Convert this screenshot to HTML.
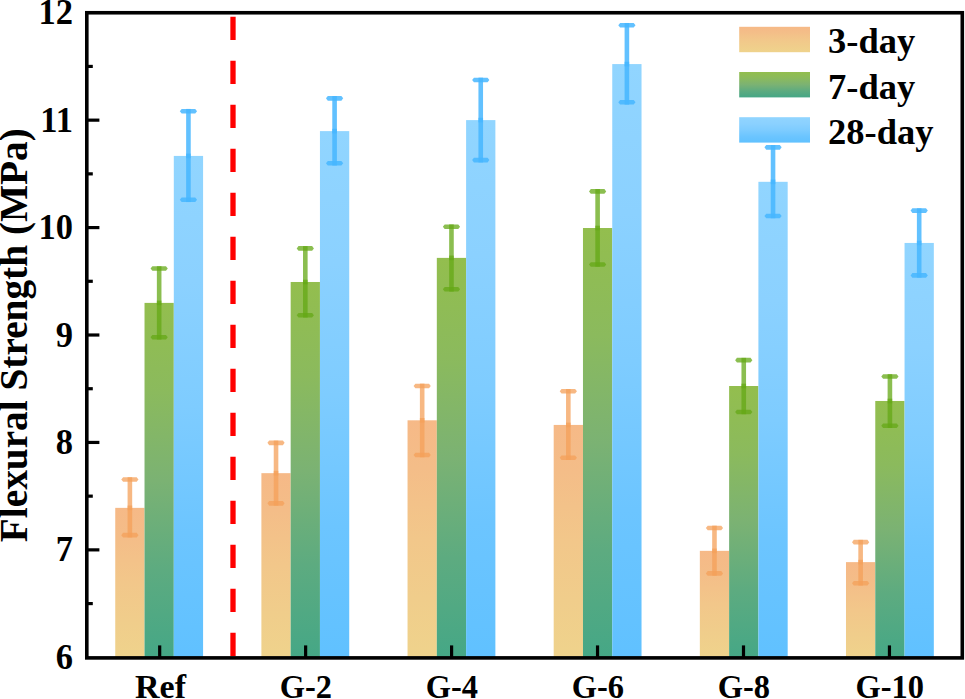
<!DOCTYPE html>
<html><head><meta charset="utf-8"><style>
html,body{margin:0;padding:0;background:#fff;overflow:hidden;}
svg{display:block;}
text{font-family:"Liberation Serif",serif;font-weight:bold;fill:#000;}
</style></head><body>
<svg width="965" height="699" viewBox="0 0 965 699">
<defs>
<linearGradient id="go" x1="0" y1="0" x2="0" y2="1"><stop offset="0.000" stop-color="rgb(246,185,135)"/><stop offset="0.200" stop-color="rgb(244,189,136)"/><stop offset="0.500" stop-color="rgb(242,199,138)"/><stop offset="0.750" stop-color="rgb(240,205,139)"/><stop offset="1.000" stop-color="rgb(239,211,140)"/></linearGradient>
<linearGradient id="gg" x1="0" y1="0" x2="0" y2="1"><stop offset="0.000" stop-color="rgb(147,190,78)"/><stop offset="0.250" stop-color="rgb(139,186,93)"/><stop offset="0.500" stop-color="rgb(123,178,115)"/><stop offset="0.750" stop-color="rgb(93,171,128)"/><stop offset="1.000" stop-color="rgb(69,167,134)"/></linearGradient>
<linearGradient id="gb" x1="0" y1="0" x2="0" y2="1"><stop offset="0.000" stop-color="rgb(145,213,255)"/><stop offset="0.250" stop-color="rgb(139,209,255)"/><stop offset="0.500" stop-color="rgb(126,204,255)"/><stop offset="0.750" stop-color="rgb(108,197,255)"/><stop offset="1.000" stop-color="rgb(96,193,255)"/></linearGradient>
</defs>
<rect x="0" y="0" width="965" height="699" fill="#fff"/>

<rect x="115.24" y="507.86" width="29.28" height="150.44" fill="url(#go)"/>
<rect x="144.52" y="302.89" width="29.28" height="355.41" fill="url(#gg)"/>
<rect x="173.80" y="155.92" width="29.28" height="502.38" fill="url(#gb)"/>
<rect x="261.39" y="473.16" width="29.28" height="185.14" fill="url(#go)"/>
<rect x="290.67" y="281.99" width="29.28" height="376.31" fill="url(#gg)"/>
<rect x="319.95" y="131.11" width="29.28" height="527.19" fill="url(#gb)"/>
<rect x="407.54" y="420.31" width="29.28" height="237.99" fill="url(#go)"/>
<rect x="436.82" y="257.88" width="29.28" height="400.42" fill="url(#gg)"/>
<rect x="466.10" y="120.10" width="29.28" height="538.20" fill="url(#gb)"/>
<rect x="553.69" y="424.93" width="29.28" height="233.37" fill="url(#go)"/>
<rect x="582.97" y="228.01" width="29.28" height="430.29" fill="url(#gg)"/>
<rect x="612.25" y="64.07" width="29.28" height="594.23" fill="url(#gb)"/>
<rect x="699.84" y="550.84" width="29.28" height="107.46" fill="url(#go)"/>
<rect x="729.12" y="386.00" width="29.28" height="272.30" fill="url(#gg)"/>
<rect x="758.40" y="181.81" width="29.28" height="476.49" fill="url(#gb)"/>
<rect x="845.99" y="562.12" width="29.28" height="96.18" fill="url(#go)"/>
<rect x="875.27" y="400.97" width="29.28" height="257.33" fill="url(#gg)"/>
<rect x="904.55" y="242.94" width="29.28" height="415.36" fill="url(#gb)"/>
<g fill="rgba(244,160,90,0.75)"><rect x="127.58" y="477.20" width="4.6" height="32.96"/><rect x="127.58" y="505.56" width="4.6" height="31.89"/><polygon points="121.28,479.50 123.08,477.20 136.68,477.20 138.48,479.50 136.68,481.80 123.08,481.80"/><polygon points="121.28,535.15 123.08,532.85 136.68,532.85 138.48,535.15 136.68,537.45 123.08,537.45"/></g>
<g fill="rgba(100,168,22,0.75)"><rect x="156.86" y="266.21" width="4.6" height="38.98"/><rect x="156.86" y="300.59" width="4.6" height="38.98"/><polygon points="150.56,268.51 152.36,266.21 165.96,266.21 167.76,268.51 165.96,270.81 152.36,270.81"/><polygon points="150.56,337.27 152.36,334.97 165.96,334.97 167.76,337.27 165.96,339.57 152.36,339.57"/></g>
<g fill="rgba(70,182,255,0.85)"><rect x="186.14" y="108.93" width="4.6" height="49.29"/><rect x="186.14" y="153.62" width="4.6" height="48.43"/><polygon points="179.84,111.23 181.64,108.93 195.24,108.93 197.04,111.23 195.24,113.53 181.64,113.53"/><polygon points="179.84,199.76 181.64,197.46 195.24,197.46 197.04,199.76 195.24,202.06 181.64,202.06"/></g>
<g fill="rgba(244,160,90,0.75)"><rect x="273.73" y="440.57" width="4.6" height="34.90"/><rect x="273.73" y="470.86" width="4.6" height="34.79"/><polygon points="267.43,442.87 269.23,440.57 282.83,440.57 284.63,442.87 282.83,445.17 269.23,445.17"/><polygon points="267.43,503.35 269.23,501.05 282.83,501.05 284.63,503.35 282.83,505.65 269.23,505.65"/></g>
<g fill="rgba(100,168,22,0.75)"><rect x="303.01" y="246.12" width="4.6" height="38.17"/><rect x="303.01" y="279.69" width="4.6" height="37.85"/><polygon points="296.71,248.42 298.51,246.12 312.11,246.12 313.91,248.42 312.11,250.72 298.51,250.72"/><polygon points="296.71,315.24 298.51,312.94 312.11,312.94 313.91,315.24 312.11,317.54 298.51,317.54"/></g>
<g fill="rgba(70,182,255,0.85)"><rect x="332.29" y="96.04" width="4.6" height="37.37"/><rect x="332.29" y="128.81" width="4.6" height="36.72"/><polygon points="325.99,98.34 327.79,96.04 341.39,96.04 343.19,98.34 341.39,100.64 327.79,100.64"/><polygon points="325.99,163.23 327.79,160.93 341.39,160.93 343.19,163.23 341.39,165.53 327.79,165.53"/></g>
<g fill="rgba(244,160,90,0.75)"><rect x="419.88" y="383.63" width="4.6" height="38.98"/><rect x="419.88" y="418.01" width="4.6" height="39.30"/><polygon points="413.58,385.93 415.38,383.63 428.98,383.63 430.78,385.93 428.98,388.23 415.38,388.23"/><polygon points="413.58,455.01 415.38,452.71 428.98,452.71 430.78,455.01 428.98,457.31 415.38,457.31"/></g>
<g fill="rgba(100,168,22,0.75)"><rect x="449.16" y="224.42" width="4.6" height="35.75"/><rect x="449.16" y="255.58" width="4.6" height="36.02"/><polygon points="442.86,226.72 444.66,224.42 458.26,224.42 460.06,226.72 458.26,229.02 444.66,229.02"/><polygon points="442.86,289.30 444.66,287.00 458.26,287.00 460.06,289.30 458.26,291.60 444.66,291.60"/></g>
<g fill="rgba(70,182,255,0.85)"><rect x="478.44" y="77.67" width="4.6" height="44.73"/><rect x="478.44" y="117.80" width="4.6" height="44.62"/><polygon points="472.14,79.97 473.94,77.67 487.54,77.67 489.34,79.97 487.54,82.27 473.94,82.27"/><polygon points="472.14,160.11 473.94,157.81 487.54,157.81 489.34,160.11 487.54,162.41 473.94,162.41"/></g>
<g fill="rgba(244,160,90,0.75)"><rect x="566.03" y="389.00" width="4.6" height="38.23"/><rect x="566.03" y="422.63" width="4.6" height="37.37"/><polygon points="559.73,391.30 561.53,389.00 575.13,389.00 576.93,391.30 575.13,393.60 561.53,393.60"/><polygon points="559.73,457.70 561.53,455.40 575.13,455.40 576.93,457.70 575.13,460.00 561.53,460.00"/></g>
<g fill="rgba(100,168,22,0.75)"><rect x="595.31" y="189.08" width="4.6" height="41.23"/><rect x="595.31" y="225.71" width="4.6" height="41.02"/><polygon points="589.01,191.38 590.81,189.08 604.41,189.08 606.21,191.38 604.41,193.68 590.81,193.68"/><polygon points="589.01,264.43 590.81,262.13 604.41,262.13 606.21,264.43 604.41,266.73 590.81,266.73"/></g>
<g fill="rgba(70,182,255,0.85)"><rect x="624.59" y="22.99" width="4.6" height="43.38"/><rect x="624.59" y="61.77" width="4.6" height="42.85"/><polygon points="618.29,25.29 620.09,22.99 633.69,22.99 635.49,25.29 633.69,27.59 620.09,27.59"/><polygon points="618.29,102.32 620.09,100.02 633.69,100.02 635.49,102.32 633.69,104.62 620.09,104.62"/></g>
<g fill="rgba(244,160,90,0.75)"><rect x="712.18" y="525.65" width="4.6" height="27.48"/><rect x="712.18" y="548.54" width="4.6" height="27.16"/><polygon points="705.88,527.95 707.68,525.65 721.28,525.65 723.08,527.95 721.28,530.25 707.68,530.25"/><polygon points="705.88,573.40 707.68,571.10 721.28,571.10 723.08,573.40 721.28,575.70 707.68,575.70"/></g>
<g fill="rgba(100,168,22,0.75)"><rect x="741.46" y="357.85" width="4.6" height="30.45"/><rect x="741.46" y="383.70" width="4.6" height="30.53"/><polygon points="735.16,360.15 736.96,357.85 750.56,357.85 752.36,360.15 750.56,362.45 736.96,362.45"/><polygon points="735.16,411.93 736.96,409.63 750.56,409.63 752.36,411.93 750.56,414.23 736.96,414.23"/></g>
<g fill="rgba(70,182,255,0.85)"><rect x="770.74" y="145.03" width="4.6" height="39.09"/><rect x="770.74" y="179.51" width="4.6" height="38.76"/><polygon points="764.44,147.33 766.24,145.03 779.84,145.03 781.64,147.33 779.84,149.63 766.24,149.63"/><polygon points="764.44,215.98 766.24,213.68 779.84,213.68 781.64,215.98 779.84,218.28 766.24,218.28"/></g>
<g fill="rgba(244,160,90,0.75)"><rect x="858.33" y="539.84" width="4.6" height="24.58"/><rect x="858.33" y="559.82" width="4.6" height="25.76"/><polygon points="852.03,542.14 853.83,539.84 867.43,539.84 869.23,542.14 867.43,544.44 853.83,544.44"/><polygon points="852.03,583.28 853.83,580.98 867.43,580.98 869.23,583.28 867.43,585.58 853.83,585.58"/></g>
<g fill="rgba(100,168,22,0.75)"><rect x="887.61" y="374.18" width="4.6" height="29.09"/><rect x="887.61" y="398.67" width="4.6" height="29.31"/><polygon points="881.31,376.48 883.11,374.18 896.71,374.18 898.51,376.48 896.71,378.78 883.11,378.78"/><polygon points="881.31,425.68 883.11,423.38 896.71,423.38 898.51,425.68 896.71,427.98 883.11,427.98"/></g>
<g fill="rgba(70,182,255,0.85)"><rect x="916.89" y="208.31" width="4.6" height="36.94"/><rect x="916.89" y="240.64" width="4.6" height="37.04"/><polygon points="910.59,210.61 912.39,208.31 925.99,208.31 927.79,210.61 925.99,212.91 912.39,212.91"/><polygon points="910.59,275.39 912.39,273.09 925.99,273.09 927.79,275.39 925.99,277.69 912.39,277.69"/></g>
<line x1="233.0" y1="656" x2="233.0" y2="16.7" stroke="#FF0000" stroke-width="5.3" stroke-dasharray="23.3 20.7"/>
<rect x="86.8" y="12.75" width="875.5" height="645.15" fill="none" stroke="#000" stroke-width="3.6"/>
<line x1="86.8" y1="603.58" x2="92.8" y2="603.58" stroke="#000" stroke-width="3.2"/>
<text transform="translate(72.9,668.90) scale(1,1.045)" font-size="34.5" text-anchor="end">6</text>
<line x1="86.8" y1="549.87" x2="99.4" y2="549.87" stroke="#000" stroke-width="3.2"/>
<line x1="86.8" y1="496.15" x2="92.8" y2="496.15" stroke="#000" stroke-width="3.2"/>
<text transform="translate(72.9,561.47) scale(1,1.045)" font-size="34.5" text-anchor="end">7</text>
<line x1="86.8" y1="442.44" x2="99.4" y2="442.44" stroke="#000" stroke-width="3.2"/>
<line x1="86.8" y1="388.72" x2="92.8" y2="388.72" stroke="#000" stroke-width="3.2"/>
<text transform="translate(72.9,454.04) scale(1,1.045)" font-size="34.5" text-anchor="end">8</text>
<line x1="86.8" y1="335.01" x2="99.4" y2="335.01" stroke="#000" stroke-width="3.2"/>
<line x1="86.8" y1="281.29" x2="92.8" y2="281.29" stroke="#000" stroke-width="3.2"/>
<text transform="translate(72.9,346.61) scale(1,1.045)" font-size="34.5" text-anchor="end">9</text>
<line x1="86.8" y1="227.58" x2="99.4" y2="227.58" stroke="#000" stroke-width="3.2"/>
<line x1="86.8" y1="173.86" x2="92.8" y2="173.86" stroke="#000" stroke-width="3.2"/>
<text transform="translate(72.9,239.18) scale(1,1.045)" font-size="34.5" text-anchor="end">10</text>
<line x1="86.8" y1="120.15" x2="99.4" y2="120.15" stroke="#000" stroke-width="3.2"/>
<line x1="86.8" y1="66.43" x2="92.8" y2="66.43" stroke="#000" stroke-width="3.2"/>
<text transform="translate(72.9,131.75) scale(1,1.045)" font-size="34.5" text-anchor="end">11</text>
<text transform="translate(72.9,24.32) scale(1,1.045)" font-size="34.5" text-anchor="end">12</text>
<line x1="159.68" y1="645.4" x2="159.68" y2="657" stroke="#000" stroke-width="3.2"/>
<text x="160.48" y="697.8" font-size="34" text-anchor="middle">Ref</text>
<line x1="305.63" y1="645.4" x2="305.63" y2="657" stroke="#000" stroke-width="3.2"/>
<text transform="translate(305.93,697.8) scale(0.955,1)" font-size="34" text-anchor="middle">G-2</text>
<line x1="451.59" y1="645.4" x2="451.59" y2="657" stroke="#000" stroke-width="3.2"/>
<text transform="translate(451.89,697.8) scale(0.955,1)" font-size="34" text-anchor="middle">G-4</text>
<line x1="597.54" y1="645.4" x2="597.54" y2="657" stroke="#000" stroke-width="3.2"/>
<text transform="translate(597.84,697.8) scale(0.955,1)" font-size="34" text-anchor="middle">G-6</text>
<line x1="743.50" y1="645.4" x2="743.50" y2="657" stroke="#000" stroke-width="3.2"/>
<text transform="translate(743.80,697.8) scale(0.955,1)" font-size="34" text-anchor="middle">G-8</text>
<line x1="889.45" y1="645.4" x2="889.45" y2="657" stroke="#000" stroke-width="3.2"/>
<text transform="translate(889.75,697.8) scale(0.955,1)" font-size="34" text-anchor="middle">G-10</text>
<text transform="translate(27.1,335.2) rotate(-90)" font-size="39.3" text-anchor="middle">Flexural Strength (MPa)</text>
<rect x="739.2" y="26.80" width="70.8" height="25.4" fill="url(#go)"/>
<text x="828.1" y="53.30" font-size="36.5">3-day</text>
<rect x="739.2" y="72.00" width="70.8" height="25.4" fill="url(#gg)"/>
<text x="828.1" y="98.50" font-size="36.5">7-day</text>
<rect x="739.2" y="117.20" width="70.8" height="25.4" fill="url(#gb)"/>
<text x="828.1" y="143.70" font-size="36.5">28-day</text>
</svg></body></html>
